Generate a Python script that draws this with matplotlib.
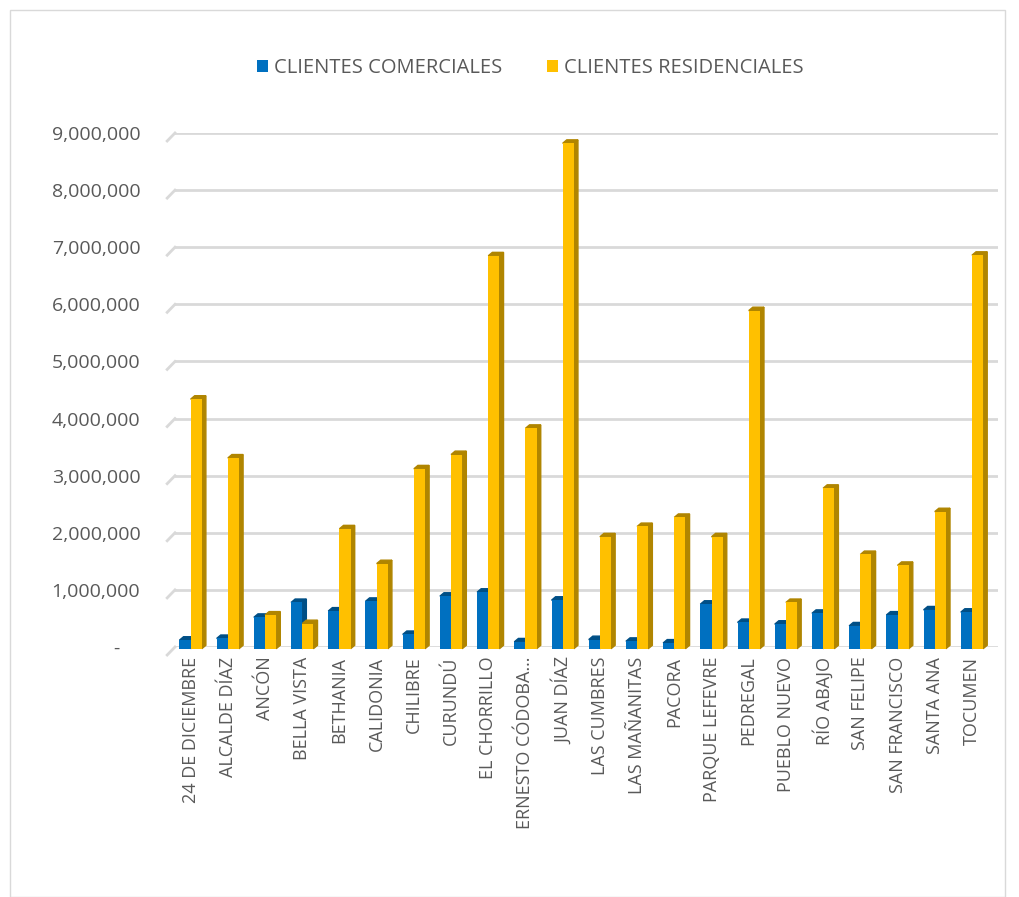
import numpy as np
import matplotlib.pyplot as plt
from matplotlib.patches import Polygon, Rectangle

plt.rcParams['font.family'] = ['Open Sans', 'DejaVu Sans']

# data
corregimientos = ["24 DE DICIEMBRE", "ALCALDE DÍAZ", "ANCÓN", "BELLA VISTA", "BETHANIA",
                  "CALIDONIA", "CHILIBRE", "CURUNDÚ", "EL CHORRILLO", "ERNESTO CÓDOBA…",
                  "JUAN DÍAZ", "LAS CUMBRES", "LAS MAÑANITAS", "PACORA", "PARQUE LEFEVRE",
                  "PEDREGAL", "PUEBLO NUEVO", "RÍO ABAJO", "SAN FELIPE", "SAN FRANCISCO",
                  "SANTA ANA", "TOCUMEN"]
comerciales = [150000, 180000, 550000, 810000, 660000, 830000, 250000, 920000, 990000, 120000,
               850000, 160000, 130000, 100000, 780000, 460000, 430000, 620000, 400000, 590000,
               680000, 640000]
residenciales = [4370000, 3340000, 590000, 440000, 2100000, 1490000, 3150000, 3400000, 6880000,
                 3860000, 8850000, 1960000, 2140000, 2300000, 1960000, 5920000, 810000, 2810000,
                 1650000, 1460000, 2400000, 6890000]
yticks = [0, 1000000, 2000000, 3000000, 4000000, 5000000, 6000000, 7000000, 8000000, 9000000]

BLUE, BLUE_DK = "#0070C0", "#004F86"
GOLD, GOLD_DK = "#FFC000", "#B08500"
TXT = "#595959"
GRID = "#D9D9D9"

fig = plt.figure(figsize=(10.2, 8.97), dpi=100)
ax = fig.add_axes([175 / 1020, 1 - 647 / 897, (998 - 175) / 1020, (647 - 133) / 897])

x = np.arange(len(corregimientos))
w = 0.3
dx, dy = 0.11, 60000  # fake 3D depth

def bars3d(xs, vals, col, dark):
    bs = ax.bar(xs, vals, width=w, bottom=-dy / 2, color=col, zorder=3, clip_on=False)
    for b in bs:
        x0 = b.get_x(); x1 = x0 + b.get_width()
        y0 = b.get_y(); y1 = y0 + b.get_height()
        ax.add_patch(Polygon([(x1, y0), (x1 + dx, y0 + dy), (x1 + dx, y1 + dy), (x1, y1)],
                             closed=True, color=dark, zorder=2, clip_on=False))
        ax.add_patch(Polygon([(x0, y1), (x1, y1), (x1 + dx, y1 + dy), (x0 + dx, y1 + dy)],
                             closed=True, color=dark, zorder=2, clip_on=False))
    return bs

b1 = bars3d(x - w / 2, comerciales, BLUE, BLUE_DK)
b2 = bars3d(x + w / 2, residenciales, GOLD, GOLD_DK)

ax.set_xlim(-0.42, 21.7)
ax.set_ylim(0, 9000000)
ax.set_yticks(yticks)
ax.set_yticklabels(["-    "] + [f"{v:,.0f}" for v in yticks[1:]])
ax.set_xticks(x)
ax.set_xticklabels(corregimientos, rotation=90)
ax.tick_params(axis='y', length=0, pad=25, labelsize=14, labelcolor=TXT)
ax.tick_params(axis='x', length=0, pad=7, labelsize=13, labelcolor=TXT)
for s in ax.spines.values():
    s.set_visible(False)

for v in yticks:
    ax.axhline(v, color=GRID, lw=2, zorder=1)
    ax.plot([-0.42 - 0.21, -0.42], [v - 140000, v], color=GRID, lw=2, zorder=1, clip_on=False)

leg = fig.legend([b1, b2], ["CLIENTES COMERCIALES", "CLIENTES RESIDENCIALES"],
                 loc='center', bbox_to_anchor=(0.52, 1 - 68 / 897), ncol=2, frameon=False,
                 fontsize=14.5, handlelength=0.55, handleheight=0.55, handletextpad=0.3,
                 columnspacing=2.2)
for t in leg.get_texts():
    t.set_color(TXT)

fig.patches.append(Rectangle((10 / 1020, 0), 995 / 1020, 1 - 10 / 897, transform=fig.transFigure,
                             fill=False, edgecolor=GRID, lw=1))

fig.savefig("out.png", dpi=100)
